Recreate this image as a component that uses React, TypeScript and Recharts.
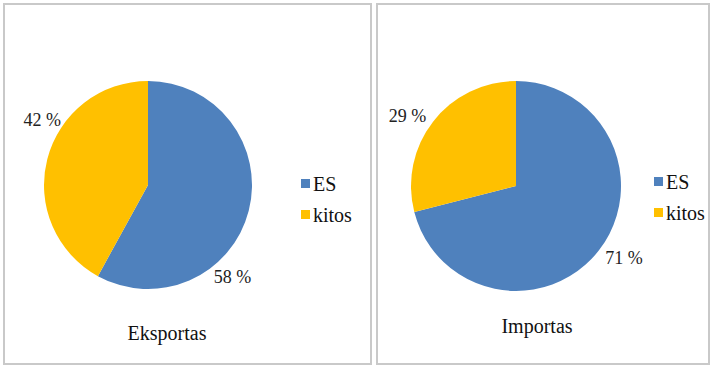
import { PieChart, Pie, Cell, Legend } from 'recharts'

const categories = ['ES', 'kitos']
const exportShares = [58, 42]
const importShares = [71, 29]
const chartTitles = ['Eksportas', 'Importas']
const sliceColors = ['#4F81BD', '#FFC000']

const FONT = 'Liberation Serif, Tinos, DejaVu Serif, serif'
const RADIAN = Math.PI / 180

// Excel "best fit" style labels: nudge each label around the rim a bit
const makeLabel = (angleShift: number[], gap: number[]) => (props: any) => {
  const { cx, cy, midAngle, outerRadius, value, index } = props
  const a = (midAngle + angleShift[index]) * RADIAN
  const r = outerRadius + gap[index]
  return (
    <text x={cx + r * Math.cos(a)} y={cy - r * Math.sin(a)} textAnchor="middle"
      dominantBaseline="central" style={{ fontFamily: FONT }} fontSize={18} fill="#222">
      {`${value} %`}
    </text>
  )
}

const LegendBox = ({ payload }: any) => (
  <div>
    {(payload || []).map((p: any) => (
      <div key={p.value} style={{ display: 'flex', alignItems: 'center', height: 31 }}>
        <span style={{ display: 'inline-block', width: 9, height: 9, background: p.color, marginRight: 3 }} />
        <span style={{ fontFamily: FONT, fontSize: 20, lineHeight: '20px', color: '#111' }}>{p.value}</span>
      </div>
    ))}
  </div>
)

interface PanelProps {
  title: string
  values: number[]
  left: number
  width: number
  cx: number
  cy: number
  radius: number
  legendLeft: number
  legendTop: number
  titleTop: number
  titleCenter: number
  labelShift: number[]
  labelGap: number[]
}

function PiePanel(p: PanelProps) {
  const data = categories.map((name, i) => ({ name, value: p.values[i] }))
  return (
    <div style={{ position: 'absolute', left: p.left, top: 3, width: p.width, height: 358,
      border: '2px solid #c9c9c9', background: '#fff' }}>
      <PieChart width={p.width} height={358} margin={{ top: 0, right: 0, bottom: 0, left: 0 }}>
        <Pie data={data} dataKey="value" nameKey="name" cx={p.cx} cy={p.cy} outerRadius={p.radius}
          startAngle={90} endAngle={-270} stroke="none" isAnimationActive={false}
          labelLine={false} label={makeLabel(p.labelShift, p.labelGap)}>
          {data.map((d, i) => <Cell key={d.name} fill={sliceColors[i]} />)}
        </Pie>
        <Legend content={<LegendBox />} wrapperStyle={{ left: p.legendLeft, top: p.legendTop, width: 80 }} />
      </PieChart>
      <div style={{ position: 'absolute', left: p.titleCenter - 60, width: 120, top: p.titleTop,
        textAlign: 'center', fontFamily: FONT, fontSize: 20, lineHeight: '20px', color: '#111' }}>
        {p.title}
      </div>
    </div>
  )
}

export default function App() {
  return (
    <div style={{ position: 'absolute', left: 0, top: 0, width: 711, height: 367, background: '#fff' }}>
      <PiePanel title={chartTitles[0]} values={exportShares} left={3} width={365}
        cx={143} cy={180} radius={104} legendLeft={296} legendTop={163}
        titleTop={318} titleCenter={162} labelShift={[-33, -17]} labelGap={[21, 20]} />
      <PiePanel title={chartTitles[1]} values={importShares} left={376} width={330}
        cx={138} cy={181} radius={105} legendLeft={276} legendTop={161}
        titleTop={311} titleCenter={159} labelShift={[4, 5]} labelGap={[25, 24]} />
    </div>
  )
}
